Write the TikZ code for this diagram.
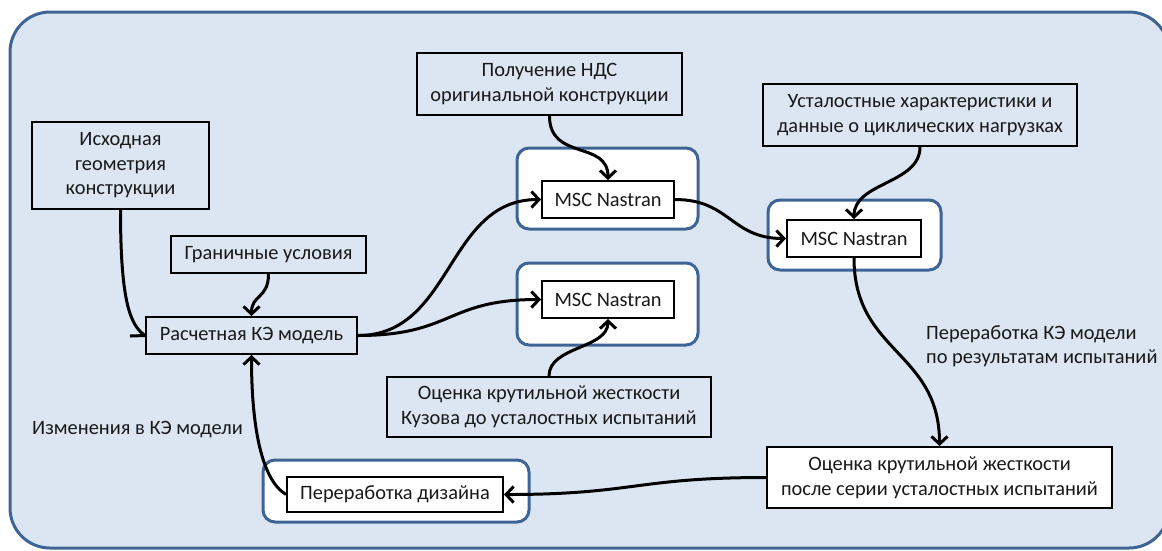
\documentclass[tikz,border=0pt]{standalone}
\usepackage{fontspec}
\setmainfont{Carlito}
\usetikzlibrary{arrows.meta}
\definecolor{bgc}{RGB}{220,230,242}
\definecolor{frm}{RGB}{62,100,150}
\begin{document}
\begin{tikzpicture}[x=1pt,y=-1pt,
  every node/.style={font=\fontsize{20.4}{24.5}\selectfont, align=center, inner sep=0pt, text=black!90},
  plainbox/.style={draw=black, line width=2pt, fill=bgc},
  whitebox/.style={draw=black, line width=2pt, fill=white},
  grp/.style={draw=frm, line width=3pt, fill=white, rounded corners=12pt},
  wire/.style={draw=black, line width=3pt},
  conn/.style={wire, -{Straight Barb[length=7.5pt,width=16pt]}}]
\useasboundingbox (0,0) rectangle (1162,550);
\begin{scope}
  \clip (0,0) rectangle (1162,550);
  \draw[draw=frm, line width=3pt, fill=bgc, rounded corners=40pt] (10,12) rectangle (1169,548);
\end{scope}
% group frames
\node[grp, minimum width=181pt, minimum height=81pt] (g1) at (607.5,188.5) {};
\node[grp, minimum width=181pt, minimum height=82pt] (g2) at (607.5,304) {};
\node[grp, minimum width=173pt, minimum height=70pt] (g3) at (854.5,235) {};
\node[grp, minimum width=266pt, minimum height=62pt] (g4) at (396,491) {};
% boxes
\node[plainbox, minimum width=177pt, minimum height=87pt] (ish) at (120.5,165.5) {Исходная\\геометрия\\конструкции};
\node[plainbox, minimum width=195pt, minimum height=37pt] (gran) at (268.5,254.5) {Граничные условия};
\node[plainbox, minimum width=211pt, minimum height=37pt] (rasch) at (251.5,335.5) {Расчетная КЭ модель};
\node[plainbox, minimum width=265pt, minimum height=62pt] (pol) at (549.5,84) {Получение НДС\\оригинальной конструкции};
\node[whitebox, minimum width=132pt, minimum height=37pt] (m1) at (608,199.5) {MSC Nastran};
\node[whitebox, minimum width=132pt, minimum height=37pt] (m2) at (608,299.5) {MSC Nastran};
\node[plainbox, minimum width=314pt, minimum height=62pt] (ust) at (920,115) {Усталостные характеристики и\\данные о циклических нагрузках};
\node[whitebox, minimum width=134pt, minimum height=37pt] (m3) at (854,238.5) {MSC Nastran};
\node[plainbox, minimum width=324pt, minimum height=60pt] (ocdo) at (549,407) {Оценка крутильной жесткости\\Кузова до усталостных испытаний};
\node[whitebox, minimum width=345pt, minimum height=61pt] (ocpo) at (939.5,477.5) {Оценка крутильной жесткости\\после серии усталостных испытаний};
\node[whitebox, minimum width=216pt, minimum height=35pt] (perer) at (395,494.5) {Переработка дизайна};
% labels
\node[anchor=west, align=left] (lbl) at (926,346) {Переработка КЭ модели\\по результатам испытаний};
\node[anchor=west] (izm) at (32,430) {Изменения в КЭ модели};
% connectors
\coordinate (stub) at (130,336);
\draw[wire] (ish.south) .. controls +(0,95) and +(-14,-10) .. (rasch.west);
\draw[wire] (stub) -- (rasch.west);
\draw[conn] (gran.south) .. controls +(0,25) and +(0,-22) .. (rasch.north);
\draw[conn] (rasch.east) .. controls +(95,0) and +(-95,0) .. (m1.west);
\draw[conn] (rasch.east) .. controls +(95,0) and +(-95,0) .. (m2.west);
\draw[conn] (pol.south) .. controls +(0,45) and +(0,-40) .. (m1.north);
\draw[conn] (m1.east) .. controls +(55,0) and +(-55,0) .. (m3.west);
\draw[conn] (ust.south) .. controls +(0,37) and +(0,-37) .. (m3.north);
\draw[conn] (m3.south) .. controls +(0,95) and +(0,-95) .. (ocpo.north);
\draw[conn] (ocdo.north) .. controls +(0,-30) and +(0,30) .. (m2.south);
\draw[conn] (ocpo.west) .. controls +(-130,0) and +(130,0) .. (perer.east);
\draw[conn] (perer.west) .. controls +(-25,-15) and +(0,70) .. (rasch.south);
\end{tikzpicture}
\end{document}
